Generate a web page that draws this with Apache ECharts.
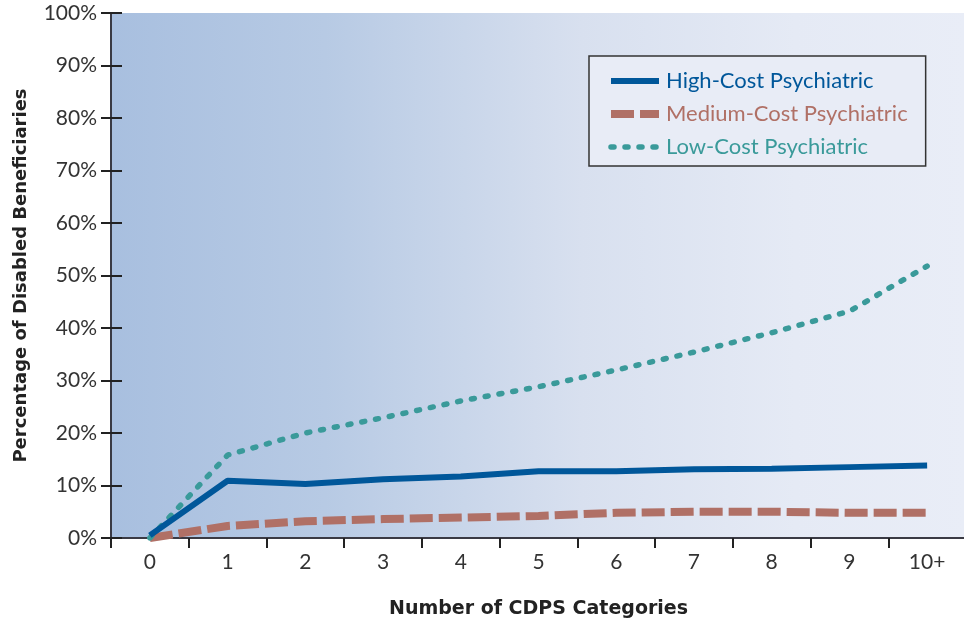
<!DOCTYPE html>
<html>
<head>
<meta charset="utf-8">
<script src="https://cdn.jsdelivr.net/npm/echarts@6/dist/echarts.min.js"></script>
<style>html,body{margin:0;padding:0;background:#fff}#c{width:964px;height:624px}</style>
</head>
<body>
<div id="c"></div>
<script>
const categories = ['0','1','2','3','4','5','6','7','8','9','10+'];
const highCost = [0.5, 10.9, 10.3, 11.2, 11.7, 12.7, 12.7, 13.1, 13.2, 13.5, 13.8];
const mediumCost = [0, 2.3, 3.2, 3.6, 3.9, 4.2, 4.8, 5.0, 5.0, 4.8, 4.8];
const lowCost = [0, 15.8, 20.0, 22.9, 26.1, 28.8, 32.0, 35.4, 39.1, 43.2, 51.8];
const seriesNames = ['High-Cost Psychiatric','Medium-Cost Psychiatric','Low-Cost Psychiatric'];
const yTicks = [0,10,20,30,40,50,60,70,80,90,100];

const FONT = 'Lato, "Noto Sans", sans-serif';
const BOLDFONT = '"DejaVu Sans", sans-serif';
const axisColor = '#3a3a44';
const cHigh = '#00579a', cMed = '#b07066', cLow = '#3a9a9a';
const styleHigh = {color:cHigh, width:6, type:'solid', cap:'butt'};
const styleMed = {color:cMed, width:8, type:[23,6], cap:'butt'};
const styleLow = {color:cLow, width:5.5, type:[3,11], cap:'round'};

const chart = echarts.init(document.getElementById('c'), null, {renderer:'canvas'});
chart.setOption({
  animation:false,
  grid:{left:111, right:-2, top:13, bottom:86, show:true, borderWidth:0,
    containLabel:false, outerBoundsMode:'none',
    backgroundColor:{type:'linear', x:0, y:0, x2:1, y2:0, colorStops:[
      {offset:0, color:'#a8bfdf'},{offset:0.25, color:'#b7cae4'},{offset:0.55, color:'#d8e0ef'},{offset:0.8, color:'#e5eaf5'},{offset:1, color:'#e9edf7'}]}},
  legend:{orient:'vertical', left:589, top:56,
    padding:[14,18,8,18], itemGap:11, itemWidth:48, itemHeight:14,
    borderColor:'#333', borderWidth:1.5, backgroundColor:'#e8ecf6',
    textStyle:{fontFamily:FONT, fontSize:22, padding:[0,0,0,2]},
    itemStyle:{opacity:0},
    data:[
      {name:seriesNames[0], textStyle:{color:cHigh}, lineStyle:styleHigh, itemStyle:{opacity:0}},
      {name:seriesNames[1], textStyle:{color:cMed}, lineStyle:styleMed, itemStyle:{opacity:0}},
      {name:seriesNames[2], textStyle:{color:cLow}, lineStyle:styleLow, itemStyle:{opacity:0}}]},
  xAxis:{type:'category', data:categories, boundaryGap:true,
    name:'Number of CDPS Categories', nameLocation:'middle', nameGap:62,
    nameTextStyle:{fontFamily:BOLDFONT, fontSize:19, fontWeight:'bold', color:'#222'},
    axisLine:{lineStyle:{color:axisColor, width:2}},
    axisTick:{show:true, length:10, lineStyle:{color:'#222', width:2}},
    axisLabel:{fontFamily:FONT, fontSize:21, color:'#333', margin:14},
    splitLine:{show:false}},
  yAxis:[
    {type:'value', min:0, max:100, interval:10,
     name:'Percentage of Disabled Beneficiaries', nameLocation:'middle', nameGap:81, nameRotate:90,
     nameTextStyle:{fontFamily:BOLDFONT, fontSize:18, fontWeight:'bold', color:'#222'},
     axisLine:{show:true, lineStyle:{color:axisColor, width:2}},
     axisTick:{show:true, length:10, lineStyle:{color:'#222', width:2}},
     axisLabel:{fontFamily:FONT, fontSize:21, color:'#333', margin:14, formatter:'{value}%'},
     splitLine:{show:false}},
    {type:'value', min:0, max:100, interval:10, position:'left',
     axisLine:{show:false}, axisLabel:{show:false}, splitLine:{show:false},
     axisTick:{show:true, inside:true, length:11, lineStyle:{color:'#222', width:2}}}
  ],
  series:[
    {name:seriesNames[1], type:'line', data:mediumCost, showSymbol:false, symbol:'none', z:2,
     lineStyle:styleMed, itemStyle:{color:cMed}},
    {name:seriesNames[2], type:'line', data:lowCost, showSymbol:false, symbol:'none', z:3,
     lineStyle:styleLow, itemStyle:{color:cLow}},
    {name:seriesNames[0], type:'line', data:highCost, showSymbol:false, symbol:'none', z:4,
     lineStyle:styleHigh, itemStyle:{color:cHigh}}
  ]
});
</script>
</body>
</html>
